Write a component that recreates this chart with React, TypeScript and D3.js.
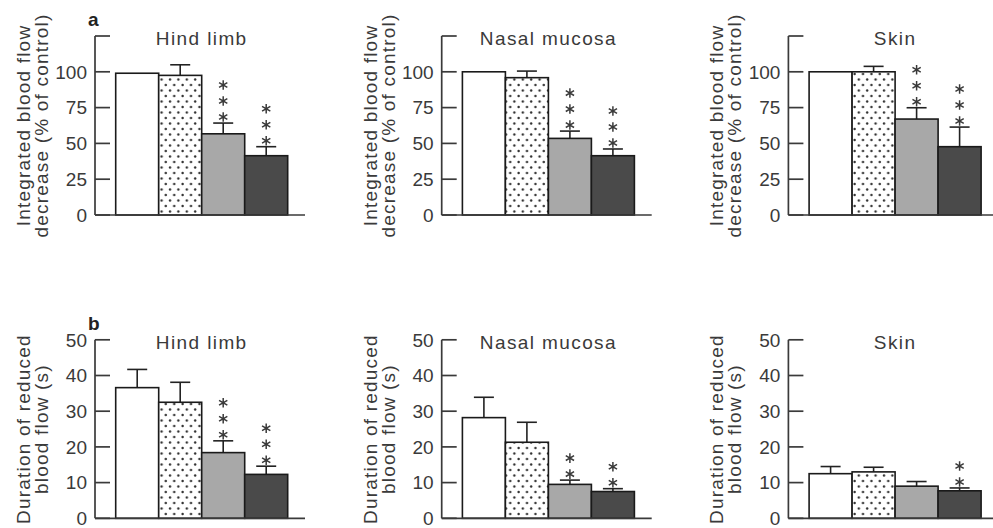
import * as d3 from 'd3'

// bar groups (left to right in every panel)
const groups = ['g1', 'g2', 'g3', 'g4']
const regions = ['Hind limb', 'Nasal mucosa', 'Skin']

// a: integrated blood flow decrease (% of control)
const integratedMean = [
  [99, 97.5, 56.7, 41.4],
  [100, 95.9, 53.5, 41.4],
  [100, 100, 67, 47.7],
]
const integratedErr = [
  [0, 7.4, 7.5, 6.3],
  [0, 4.6, 5.1, 4.7],
  [0, 3.8, 7.9, 13.7],
]
const integratedStars = [
  [0, 0, 3, 3],
  [0, 0, 3, 3],
  [0, 0, 3, 3],
]
const integratedTicks = [0, 25, 50, 75, 100, 125]
const integratedLabels = ['0', '25', '50', '75', '100', '']

// b: duration of reduced blood flow (s)
const durationMean = [
  [36.6, 32.5, 18.4, 12.3],
  [28.2, 21.3, 9.5, 7.5],
  [12.5, 13.0, 9.0, 7.7],
]
const durationErr = [
  [5.1, 5.6, 3.3, 2.3],
  [5.7, 5.6, 1.2, 0.8],
  [2.0, 1.3, 1.3, 0.8],
]
const durationStars = [
  [0, 0, 3, 3],
  [0, 0, 2, 2],
  [0, 0, 0, 2],
]
const durationTicks = [0, 10, 20, 30, 40, 50]
const durationLabels = ['0', '10', '20', '30', '40', '50']

const FONT = '"Liberation Sans", Arial, sans-serif'
const INK = '#3a3a3a'
const fills = ['#ffffff', 'url(#dots)', '#a8a8a8', '#4a4a4a']

type RowProps = {
  letter: string
  yTop: number
  yBottom: number
  means: number[][]
  errs: number[][]
  stars: number[][]
  ticks: number[]
  tickLabels: string[]
  label: [string, string]
}

const starPath = d3.symbol(d3.symbolAsterisk, 64)() || ''

const Row = ({ letter, yTop, yBottom, means, errs, stars, ticks, tickLabels, label }: RowProps) => {
  const y = d3
    .scaleLinear()
    .domain([0, d3.max(ticks) as number])
    .range([yBottom, yTop])

  return (
    <g>
      {regions.map((region, ri) => {
        const axisX = 95 + ri * 346.7
        const x = d3
          .scaleBand()
          .domain(groups)
          .range([axisX + 20.7, axisX + 192.7])
          .padding(0)
        const midY = (yTop + yBottom) / 2
        return (
          <g key={region}>
            {/* y label, two rotated lines */}
            <text
              transform={`translate(${axisX - 65},${midY}) rotate(-90)`}
              textAnchor="middle"
              fontFamily={FONT}
              fontSize={19}
              letterSpacing={1.2}
              fill={INK}
            >
              {label[0]}
            </text>
            <text
              transform={`translate(${axisX - 47},${midY}) rotate(-90)`}
              textAnchor="middle"
              fontFamily={FONT}
              fontSize={19}
              letterSpacing={1.2}
              fill={INK}
            >
              {label[1]}
            </text>
            {ri === 0 && (
              <text x={axisX - 7} y={yTop - 10} fontFamily={FONT} fontSize={19} fontWeight="bold" fill="#222">
                {letter}
              </text>
            )}
            <text
              x={(x.range()[0] + x.range()[1]) / 2}
              y={yTop + 9}
              textAnchor="middle"
              fontFamily={FONT}
              fontSize={19}
              letterSpacing={1.4}
              fill={INK}
            >
              {region}
            </text>

            {/* bars */}
            {groups.map((g, gi) => {
              const m = means[ri][gi]
              const e = errs[ri][gi]
              const bx = x(g) as number
              const cx = bx + x.bandwidth() / 2
              const top = y(m + e)
              return (
                <g key={g}>
                  {e > 0 && (
                    <g stroke="#222" strokeWidth={1.6}>
                      <line x1={cx} x2={cx} y1={y(m)} y2={top} />
                      <line x1={cx - 10} x2={cx + 10} y1={top} y2={top} />
                    </g>
                  )}
                  <rect
                    x={bx}
                    y={y(m)}
                    width={x.bandwidth()}
                    height={y(0) - y(m)}
                    fill={fills[gi]}
                    stroke="#1a1a1a"
                    strokeWidth={1.6}
                  />
                  {d3.range(stars[ri][gi]).map((k) => (
                    <path
                      key={k}
                      d={starPath}
                      transform={`translate(${cx},${top - 6 - k * 16})`}
                      fill="none"
                      stroke={INK}
                      strokeWidth={1.5}
                    />
                  ))}
                </g>
              )
            })}

            {/* axes */}
            <g stroke={INK} strokeWidth={1.7} fill="none">
              <line x1={axisX} x2={axisX} y1={yTop} y2={yBottom} />
              <line x1={axisX} x2={axisX + 210} y1={yBottom} y2={yBottom} />
              {ticks.map((t) => (
                <line key={t} x1={axisX} x2={axisX + 15} y1={y(t)} y2={y(t)} />
              ))}
            </g>
            {ticks.map((t, ti) => (
              <text
                key={t}
                x={axisX - 8}
                y={y(t)}
                dy="0.36em"
                textAnchor="end"
                fontFamily={FONT}
                fontSize={19}
                fill={INK}
              >
                {tickLabels[ti]}
              </text>
            ))}
          </g>
        )
      })}
    </g>
  )
}

export default function App() {
  return (
    <svg
      width={993}
      height={528}
      style={{ position: 'absolute', left: 0, top: 0, background: '#fff' }}
    >
      <defs>
        <pattern id="dots" width={8.4} height={11} patternUnits="userSpaceOnUse">
          <rect width={8.4} height={11} fill="#fff" />
          <circle cx={2} cy={2.5} r={1.2} fill="#333" />
          <circle cx={6.2} cy={8} r={1.2} fill="#333" />
        </pattern>
      </defs>
      <Row
        letter="a"
        yTop={36}
        yBottom={215}
        means={integratedMean}
        errs={integratedErr}
        stars={integratedStars}
        ticks={integratedTicks}
        tickLabels={integratedLabels}
        label={['Integrated blood flow', 'decrease (% of control)']}
      />
      <Row
        letter="b"
        yTop={339.8}
        yBottom={518.3}
        means={durationMean}
        errs={durationErr}
        stars={durationStars}
        ticks={durationTicks}
        tickLabels={durationLabels}
        label={['Duration of reduced', 'blood flow (s)']}
      />
    </svg>
  )
}
